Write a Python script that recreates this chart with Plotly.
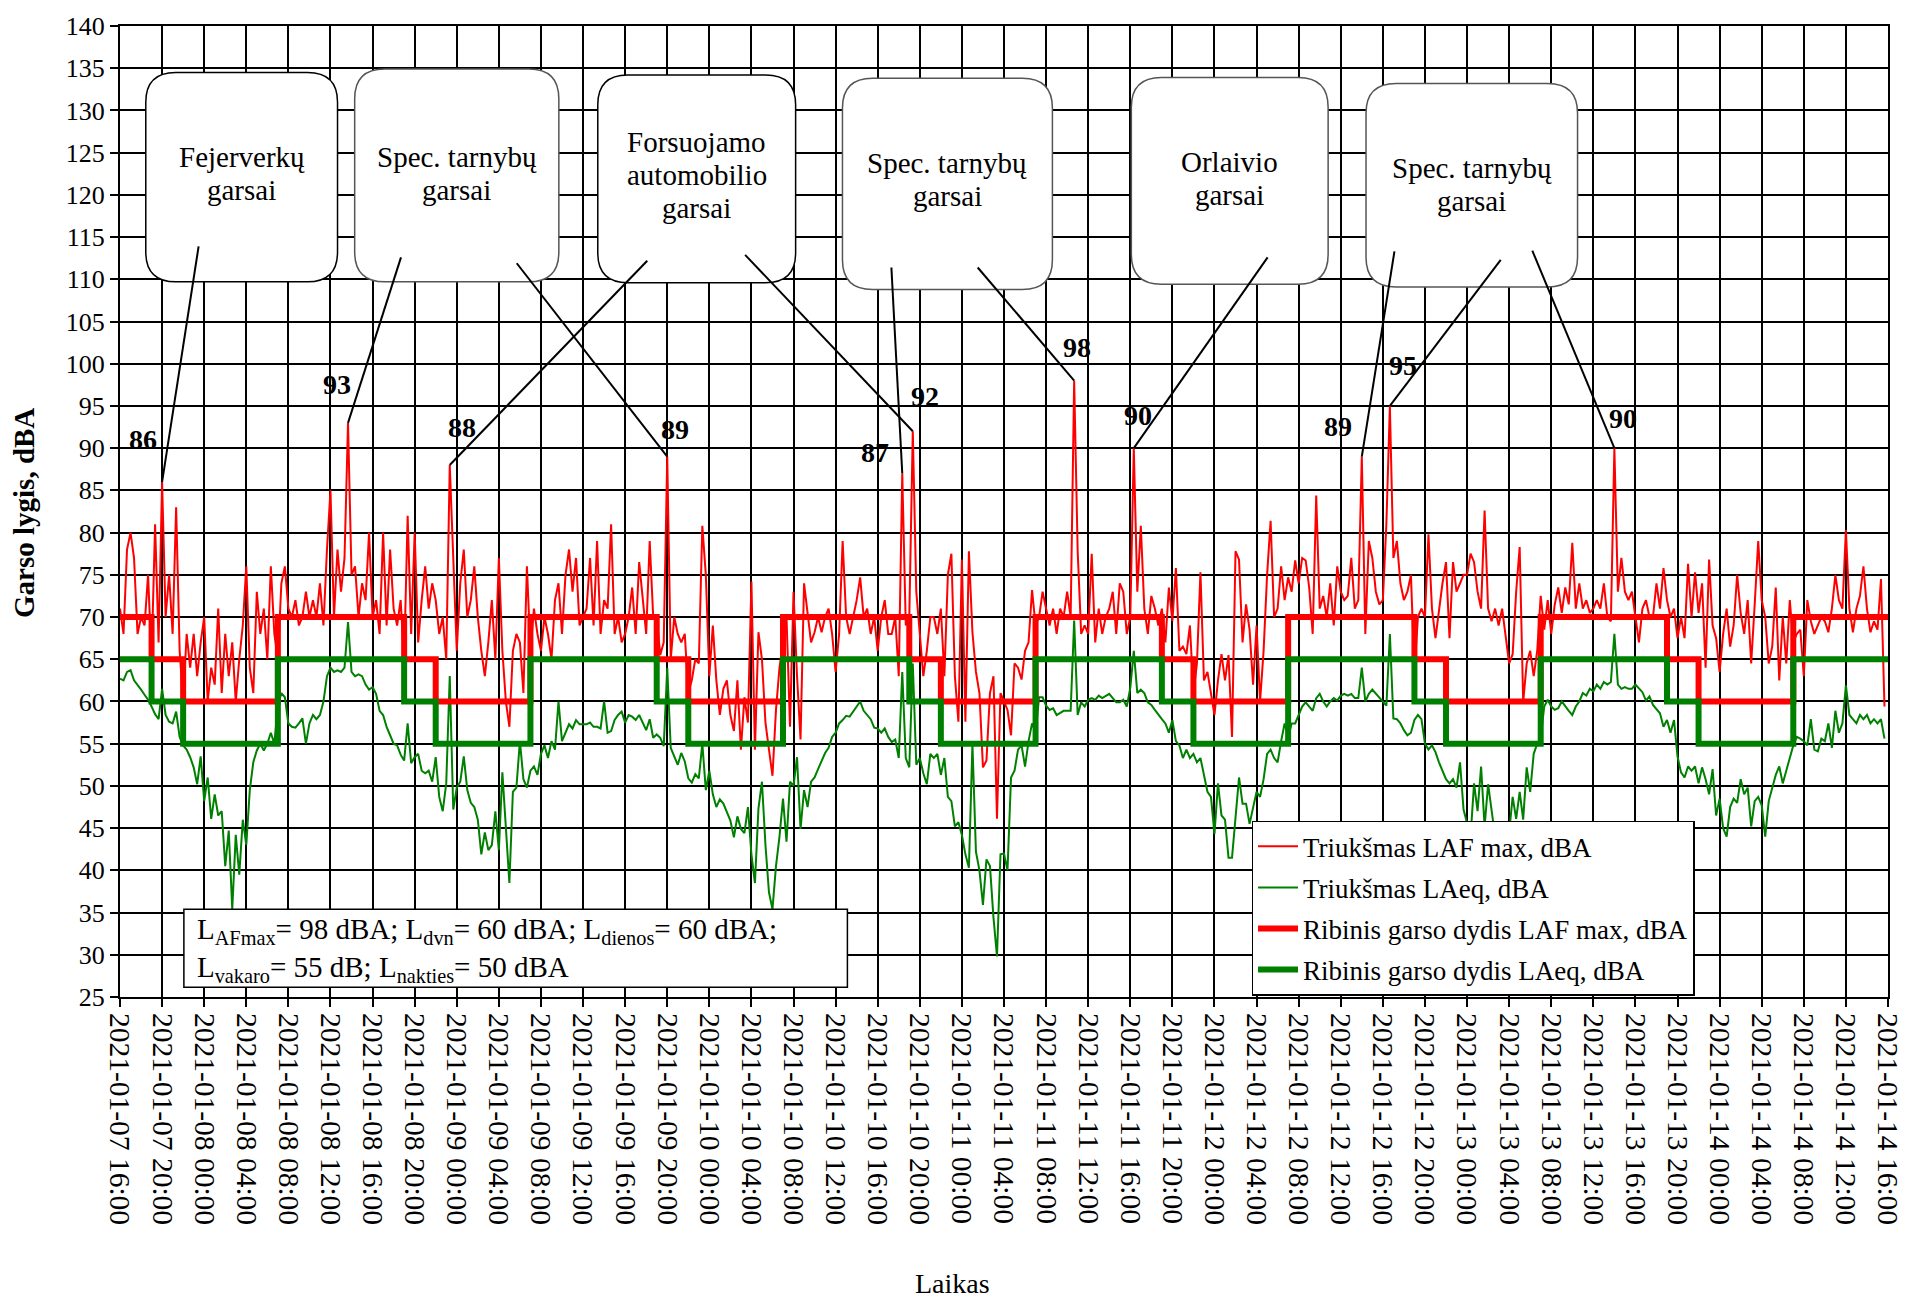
import pandas as pd
import plotly.graph_objects as go

FONT = "Liberation Serif"
START = "2021-01-07 16:00"
END = "2021-01-14 16:00"
STEP = "20min"

# ---- measured series (20-minute values), one list per day starting 16:00 ----
red_d1 = [71,68,78,80,77,68,70,69,75,65,81,67,86,70,75,68,83,66,60,68,64,68,63,67,70,60,64,62,71,61,68,63,67,60,65,69,76,64,61,73,68,71,65,76,68,65,74,76,71,70,72,69,70,73,70,72,70,74,69,78,85,70,78,73,77,93,75,76,70,74,72,80]
red_d2 = [70,72,68,80,69,78,71,69,72,65,82,68,80,67,72,76,71,74,72,68,70,65,88,77,66,74,78,70,72,76,70,66,63,67,72,65,77,66,60,57,66,68,67,61,76,66,71,68,66,70,68,65,72,74,68,75,78,73,77,69,70,71,77,69,79,68,72,71,81,68,70,67]
red_d3 = [68,70,73.5,68,76.5,72,68,79,70,70,65.5,67,89,65,70,68,67,68,61,62.5,65,64.5,80.8,75,63,69,62.5,58.4,61.5,62.5,58.4,56.5,62.5,54.3,60.5,57.5,74.2,54.3,68.2,65,57.5,54.3,51.2,59,64,67,70,57,73,63,55.5,74,70.5,67,68.2,70,68.2,70,71,68,63.5,68,79,70,68,70,72,74.7,70,71,68,70]
red_d4 = [66,70,72,68,68,70,63,87,69,70,92,73,68,63,66,70,70,68,71,63,75,77.5,63,57.6,76.8,57.6,77.8,68.2,63.5,61,52.2,53,61,63,46.1,61,60,59,56,64.5,64,62.6,66,67,73.2,69,70,73,71,69,71,68,71,70,73,70,98,77.8,68,69,68,77.5,67,71,68,70,71,73,68,74,73,68]
red_d5 = [70,90,73,80.8,71,68,72.5,71,69,71,67,73.5,69.5,75.8,66,66.5,65.6,69,61,64.5,75.3,62.5,63.5,61,58.4,62.5,65.6,62.5,65.5,55.8,77.8,76.8,67,71.5,68.5,62,69,60,66,75,81.4,70,71,76,72,74.7,73,76.7,74,77,76.7,73.5,68,84.4,71,72.5,70,74,69,76,73,72,72.5,77,71,72,89,68,79,77,73,71.5]
red_d6 = [72,81,95,77,79,74,72,73,75,63.5,70,71,70,79.8,71,67.5,71,74,76.5,67.5,76.5,73,74,75,75,77.5,76.5,73,71,82.6,71,69.5,71,69,71,68,64.5,65.6,73,78.3,59.9,64.5,66,63,66,72.5,68.5,72,68,71.5,73.5,70.5,73.5,71.5,78.8,71,74,71,72,70.5,71,72,71,74,70,69.5,90,73,77,73,72,73]
red_d7 = [70,67,71,72,70,70,74,71,75.8,72,70,71,67.5,70,67.5,76.3,70,75.3,70.5,74,64,76.8,69,67.5,63.5,68,71,66.5,69,75,70.5,68,72,64.5,71.5,79,72,70,64.5,66.5,73.5,62.5,70,64.5,72,67,68,68.5,63,72,69.5,68,69,70,69.5,68.2,71,75,72,71,80.3,71,68.2,71,72.5,76,71,68.2,69.5,68.5,74.5,59.4]

green_d1 = [62.7,62.5,63.5,63.7,62.5,62,61.4,60.8,60.2,59.4,58.5,57.9,61.5,58.4,57.6,57.4,58.8,55.8,54.8,54.3,53.4,52.2,50.2,53.5,48.2,51,46.1,49,46.5,47,40.5,44.7,35.4,44.2,39.5,46,43,49.5,52.8,54.2,55,54.2,55,56.3,55,59.5,61,60.5,57.4,57,56.9,57.4,58,55,57.4,58.4,57.9,58.4,60,63,64,63.5,63.7,63.5,64,69.4,63.5,63,63.2,63,62,61.4]
green_d2 = [61.7,60.9,58.9,58.4,57,56,55,54.8,53.7,53,57.4,52.7,53.4,53.8,51.8,51.5,51.8,50.5,53.4,48.7,47,50.3,63,47.2,49.8,50.5,53.5,49.5,48,47.5,46,41.9,44.5,42.4,43,47,42.4,51.6,45.5,38.5,49.3,49.8,55.3,50.8,49.8,51.8,52.3,51.3,53.8,54.8,53.3,55.3,54.3,60,55.3,56.3,57.3,56.8,57.8,57.3,57.3,57.3,57.5,57,57,56.8,60,56.3,56.5,57.8,58.4,58.8]
green_d3 = [57.5,58.4,58.2,57.8,58.4,57.4,56.6,57.9,55.7,56.1,55.7,54.7,64,54.5,53.5,52.5,53.9,52.9,50.9,50.4,51.4,50.9,55,49.5,51.8,49,47.5,48.4,47.9,46.9,45.9,43.9,46.4,44.9,44.4,47.5,41.9,38.5,47.3,50.5,43,37.4,35.4,40.5,44,48.5,43.4,50.5,50,53.4,44.9,49.5,47.5,50.5,51,52,53,53.9,54.5,55.8,56.3,57.4,57.8,58.3,58.2,58.8,59.4,60,58.9,58.4,57.9,56.9]
green_d4 = [56.8,56.3,56.8,55.8,55.2,55.5,53.3,63.5,53.3,52.2,64.5,52.5,53.3,51.5,50.2,53.8,53.3,53.8,51.3,53.3,48.7,48.2,45.2,45.7,44.2,41.9,40.3,55,42.2,40,35.9,41.3,40.5,34.4,29.8,41.9,42,40,51,51.8,54.3,54.8,52.3,55.3,57.4,56.3,60.5,60.5,59.5,59,59.2,58.4,58.7,58.9,58.9,58.9,69.6,58.4,59.9,59.4,60.2,60.4,60.2,60.7,60.4,60.7,60.9,60.4,59.9,59.9,60.2,59.4]
green_d5 = [61.6,66,61,61.4,61,59.9,59.6,59,58.4,57.9,57.4,56.3,57.8,55.3,54.8,53.3,54.3,53.3,53.8,52.8,53.3,51.3,49.3,48.7,44.3,50.3,46.5,46,41.5,41.5,46,51,47.9,47.9,45.5,47.5,49.3,48.7,50.8,53.8,54.3,53.3,52.8,55.3,57.4,55.8,57.4,57.4,58.4,59.4,59.9,59.4,58.9,60.4,60.9,60,59.4,60,60.4,60.1,60.7,60.9,60.7,60.9,60.4,60.4,64,60,60.9,61.4,60.9,60.4]
green_d6 = [59.9,59.5,68,58,57.9,57.4,56.6,56,56.3,57.8,58.4,57.9,55,54.3,54.8,54,52.8,51.8,50.8,50.3,50.8,49.8,52.8,47.2,45.6,44,50.3,47,52.3,45.2,50.2,47,44,43,42,44,44.5,48.7,46.1,49.3,46,52.2,49.3,53.8,55,55.7,59.4,60.2,59.4,59,59.2,60,59.4,58.9,58.4,59.4,60,61,60.7,61.5,61.2,62,61.5,62.3,62,62.3,68,62,61.5,61.7,61.5,61.5]
green_d7 = [62,61.6,61.1,60.1,60.6,59.6,59.1,58.6,57,57.8,56.3,57.8,53.5,51.6,51,52.3,51.8,52.3,50.3,52.2,50.8,49,52,46.5,48.5,45,44,47.5,48.5,48,50.8,49,49.8,45.2,48.2,48.7,47.7,44,48.2,49.8,51.3,52.3,50.3,51.8,53.3,54.8,55.8,55.6,55.3,54.8,57.9,54.3,54.1,55.6,55.3,57.4,54.5,58.9,56.3,57.4,61.9,58.4,57.9,57.4,58.4,57.9,58.4,57.4,57.9,57.4,57.9,55.6]

# ---- limit values: day (07-19), evening (19-22), night (22-07) ----
PERIOD_BOUNDS = [7, 19, 22]
LAFMAX_LIMIT = [70, 65, 60]
LAEQ_LIMIT = [65, 60, 55]

CALLOUT_TEXTS = [["Fejerverkų", "garsai"], ["Spec. tarnybų", "garsai"],
                 ["Forsuojamo", "automobilio", "garsai"], ["Spec. tarnybų", "garsai"],
                 ["Orlaivio", "garsai"], ["Spec. tarnybų", "garsai"]]
PEAK_TIMES = ["2021-01-07 20:00", "2021-01-08 13:40", "2021-01-08 23:20", "2021-01-09 20:00",
              "2021-01-10 18:20", "2021-01-10 19:20", "2021-01-11 10:40", "2021-01-11 16:20",
              "2021-01-12 14:00", "2021-01-12 16:40", "2021-01-13 14:00"]

STATS_TEXT = ("L<sub>AFmax</sub>= 98 dBA; L<sub>dvn</sub>= 60 dBA; L<sub>dienos</sub>= 60 dBA;<br>"
              "L<sub>vakaro</sub>= 55 dB; L<sub>nakties</sub>= 50 dBA")

laf = red_d1 + red_d2 + red_d3 + red_d4 + red_d5 + red_d6 + red_d7
laeq = green_d1 + green_d2 + green_d3 + green_d4 + green_d5 + green_d6 + green_d7
times = pd.date_range(START, periods=len(laf), freq=STEP)
t0 = pd.Timestamp(START)
TOTAL_H = (pd.Timestamp(END) - t0) / pd.Timedelta("1h")


def period(h):
    if PERIOD_BOUNDS[0] <= h < PERIOD_BOUNDS[1]:
        return 0
    if PERIOD_BOUNDS[1] <= h < PERIOD_BOUNDS[2]:
        return 1
    return 2


lim_t = pd.date_range(START, END, freq="1h")
lim_laf = [LAFMAX_LIMIT[period(t.hour)] for t in lim_t]
lim_laeq = [LAEQ_LIMIT[period(t.hour)] for t in lim_t]

RED = "#FF0000"
GREEN = "#008000"

fig = go.Figure()
fig.add_trace(go.Scatter(x=times, y=laf, mode="lines", name="Triukšmas LAF max, dBA",
                         line=dict(color=RED, width=2), legendgroup="a"))
fig.add_trace(go.Scatter(x=times, y=laeq, mode="lines", name="Triukšmas LAeq, dBA",
                         line=dict(color=GREEN, width=2), legendgroup="b"))
fig.add_trace(go.Scatter(x=lim_t, y=lim_laf, mode="lines", name="Ribinis garso dydis LAF max, dBA",
                         line=dict(color=RED, width=6, shape="hv"), legendgroup="c"))
fig.add_trace(go.Scatter(x=lim_t, y=lim_laeq, mode="lines", name="Ribinis garso dydis LAeq, dBA",
                         line=dict(color=GREEN, width=6, shape="hv"), legendgroup="d"))

# ---- layout geometry ----
PLOT_W = 1767.0
PX_PER_DB = 978.6 / 115.0
LINE_PITCH_DB = 3.9
TEXT_LIFT_DB = 0.8


def hx(h):
    return h / TOTAL_H


def rrect(h0, h1, v0, v1, rpx=30):
    x0, x1 = hx(h0), hx(h1)
    rx = rpx / PLOT_W
    ry = rpx / PX_PER_DB
    return (f"M {x0+rx},{v1} L {x1-rx},{v1} Q {x1},{v1} {x1},{v1-ry} "
            f"L {x1},{v0+ry} Q {x1},{v0} {x1-rx},{v0} L {x0+rx},{v0} "
            f"Q {x0},{v0} {x0},{v0+ry} L {x0},{v1-ry} Q {x0},{v1} {x0+rx},{v1} Z")


BOXES = [(2.45, 20.67, 109.7, 134.5, "#000000", 121.7),
         (22.3, 41.7, 109.7, 134.9, "#555555", 121.7),
         (45.4, 64.2, 109.6, 134.2, "#000000", 121.6),
         (68.65, 88.6, 108.8, 133.8, "#555555", 121.0),
         (96.1, 114.8, 109.4, 133.9, "#555555", 121.1),
         (118.4, 138.5, 109.1, 133.2, "#555555", 120.4)]
CONNECTORS = [(7.47, 113.9, 0), (26.7, 112.6, 1), (37.7, 111.9, 3), (50.1, 112.2, 2),
              (59.4, 112.9, 5), (73.3, 111.4, 4), (81.5, 111.4, 6), (109.05, 112.6, 7),
              (121.1, 113.3, 8), (131.2, 112.3, 9), (134.2, 113.4, 10)]
LABEL_OFFSETS = [(-1.8, 5.0), (-1.0, 4.6), (1.2, 4.4), (0.7, 3.2), (-2.6, 2.5), (1.2, 4.1),
                 (0.3, 3.9), (0.4, 3.9), (-2.3, 3.6), (1.2, 4.8), (0.8, 3.5)]

shapes = []
annotations = []
for (h0, h1, v0, v1, col, ty), lines in zip(BOXES, CALLOUT_TEXTS):
    shapes.append(dict(type="path", xref="paper", yref="y", path=rrect(h0, h1, v0, v1),
                       fillcolor="white", line=dict(color=col, width=1.5), layer="above"))
    n = len(lines)
    for i, txt in enumerate(lines):
        yy = ty + TEXT_LIFT_DB + (n - 1) / 2 * LINE_PITCH_DB - i * LINE_PITCH_DB
        annotations.append(dict(x=hx((h0 + h1) / 2), y=yy, xref="paper", yref="y", text=txt,
                                showarrow=False, font=dict(family=FONT, size=29, color="black"),
                                xanchor="center", yanchor="middle"))

laf_s = pd.Series(laf, index=times)
peak_h = [(pd.Timestamp(t) - t0) / pd.Timedelta("1h") for t in PEAK_TIMES]
peak_v = [float(laf_s[pd.Timestamp(t)]) for t in PEAK_TIMES]

for ah, av, pi in CONNECTORS:
    shapes.append(dict(type="line", xref="paper", yref="y", x0=hx(ah), y0=av,
                       x1=hx(peak_h[pi]), y1=peak_v[pi], line=dict(color="black", width=2),
                       layer="above"))

for (dh, dv), ph, pv in zip(LABEL_OFFSETS, peak_h, peak_v):
    annotations.append(dict(x=hx(ph + dh), y=pv + dv, xref="paper", yref="y",
                            text=f"<b>{round(pv)}</b>", showarrow=False,
                            font=dict(family=FONT, size=28, color="black"),
                            xanchor="center", yanchor="middle"))

# stats box
shapes.append(dict(type="rect", xref="paper", yref="y", x0=hx(6.07), x1=hx(69.12), y0=26.15, y1=35.38,
                   fillcolor="white", line=dict(color="black", width=1.5), layer="above"))
annotations.append(dict(x=hx(7.1), y=30.6, xref="paper", yref="y", text=STATS_TEXT,
                        showarrow=False, align="left", xanchor="left", yanchor="middle",
                        font=dict(family=FONT, size=29, color="black")))

# axis titles
annotations.append(dict(x=-0.054, y=0.498, xref="paper", yref="paper", text="<b>Garso lygis, dBA</b>",
                        textangle=-90, showarrow=False, font=dict(family=FONT, size=29, color="black"),
                        xanchor="center", yanchor="middle"))
annotations.append(dict(x=0.471, y=-0.295, xref="paper", yref="paper", text="Laikas",
                        showarrow=False, font=dict(family=FONT, size=28, color="black"),
                        xanchor="center", yanchor="middle"))

tick_t = pd.date_range(START, END, freq="4h")

fig.update_layout(
    width=1926, height=1298,
    margin=dict(l=120, r=38, t=18, b=301),
    paper_bgcolor="white", plot_bgcolor="white",
    font=dict(family=FONT, size=26, color="black"),
    shapes=shapes, annotations=annotations,
    showlegend=True,
    legend=dict(x=0.640, y=0.1815, xanchor="left", yanchor="top", bgcolor="white",
                bordercolor="black", borderwidth=1.5, font=dict(family=FONT, size=27, color="black"),
                tracegroupgap=3, itemwidth=40),
)
fig.update_xaxes(type="date", range=[START, END], tickvals=tick_t,
                 ticktext=[t.strftime("%Y-%m-%d %H:%M") for t in tick_t], tickangle=90,
                 showgrid=True, gridcolor="black", gridwidth=1.5, ticks="outside", ticklen=8,
                 tickcolor="black", tickwidth=1.5, showline=True, linecolor="black", linewidth=2,
                 mirror=True, zeroline=False, tickfont=dict(family=FONT, size=29.5, color="black"))
fig.update_yaxes(range=[25, 140], tick0=25, dtick=5, showgrid=True, gridcolor="black", gridwidth=1.5,
                 ticks="outside", ticklen=8, tickcolor="black", tickwidth=1.5, showline=True,
                 linecolor="black", linewidth=2, mirror=True, zeroline=False,
                 tickfont=dict(family=FONT, size=26, color="black"))

fig.write_html("out.html", config={"displayModeBar": False},
               post_script="document.body.style.margin='0';")
